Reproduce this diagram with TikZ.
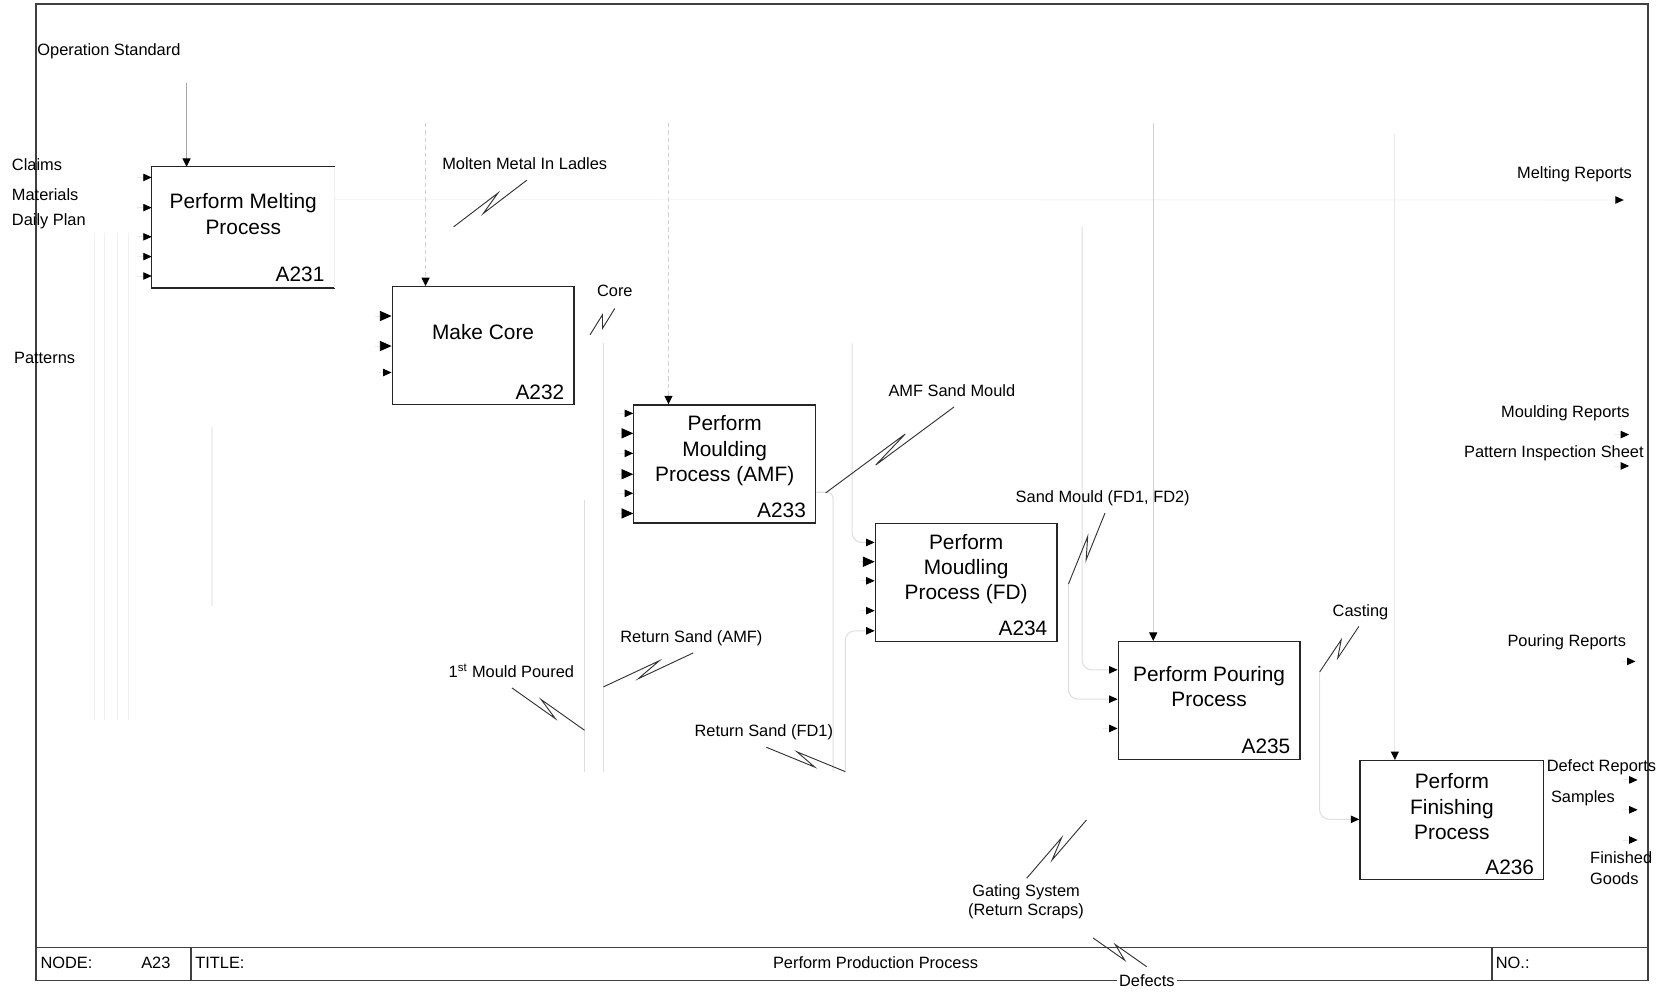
\documentclass[tikz,border=0pt]{standalone}
\usepackage{fontspec}
\setmainfont{Liberation Sans}
\usetikzlibrary{calc,arrows.meta}
\begin{document}
\begin{tikzpicture}[x=0.25mm,y=-0.25mm,
  proc/.style={draw=black!85, line width=0.3mm, minimum width=42.875mm, minimum height=27.875mm, inner sep=0pt},
  ptext/.style={font=\fontsize{14}{17}\selectfont, align=center, inner sep=0pt},
  pnum/.style={font=\fontsize{14}{17}\selectfont, inner sep=0pt, anchor=base east},
  lab/.style={font=\fontsize{11}{13}\selectfont, inner sep=0pt, anchor=base west},
  frameline/.style={draw=black!75, line width=0.35mm},
  squigline/.style={draw=black!80, line width=0.22mm},
  squigU/.style={squigline, to path={-- ($(\tikztostart)!0.64!(\tikztotarget)!1.1mm!90:(\tikztotarget)$) -- ($(\tikztostart)!0.37!(\tikztotarget)!1.1mm!-90:(\tikztotarget)$) -- (\tikztotarget)}},
  squigD/.style={squigline, to path={-- ($(\tikztostart)!0.63!(\tikztotarget)!1.1mm!-90:(\tikztotarget)$) -- ($(\tikztostart)!0.37!(\tikztotarget)!1.1mm!90:(\tikztotarget)$) -- (\tikztotarget)}},
  faint/.style={draw=black!13, line width=0.25mm},
  fainter/.style={draw=black!6, line width=0.25mm},
  ctl/.style={draw=black!18, line width=0.25mm, -{Triangle[length=2mm,width=1.9mm,color=black]}},
  tipS/.style={draw=black!8, line width=0.2mm, -{Triangle[length=2mm,width=1.75mm,color=black]}},
  tipB/.style={draw=black!8, line width=0.2mm, -{Triangle[length=2.75mm,width=2.4mm,color=black]}},
  faintin/.style={faint, rounded corners=2.25mm, -{Triangle[length=2mm,width=1.75mm,color=black]}}
]
\useasboundingbox (0,0) rectangle (1568,935);

% ---- activity boxes ----
\node[proc, draw=none, minimum height=28.25mm] (A231) at (229.5,214.5) {};
\node[proc] (A232) at (455.75,326.2) {};
\node[proc] (A233) at (683.75,437.75) {};
\node[proc] (A234) at (911.5,549.5) {};
\node[proc] (A235) at (1140.75,661) {};
\node[proc, minimum width=43.375mm, minimum height=28.1mm] (A236) at (1369.75,773.8) {};
\draw[line width=0.3mm, black!85] (A231.north east) -- (A231.north west) -- (A231.south west) -- (A231.south east);
\draw[fainter] (A231.north east) -- (A231.south east);

% ---- faint background arrows ----
\foreach \x in {89,99,111,121} \draw[fainter] (\x,220) -- (\x,679);
\draw[fainter] (200,403) -- (200,572);

\coordinate (oMelt) at (1532,188.7);
\coordinate (A231o) at ($(A231.north east)+(0,30.7)$);
\draw[draw=black!4, line width=0.25mm, -{Triangle[length=2mm,width=1.75mm,color=black]}] (A231o) -- (oMelt);

\coordinate (f1) at (1021,214);
\coordinate (A235i1) at ($(A235.north west)+(0,27.3)$);
\draw[faintin] (f1) |- (A235i1);
\coordinate (sSMa) at (1008,551);
\coordinate (sSMb) at (1042.5,484);
\coordinate (A235i2) at ($(A235.north west)+(0,55)$);
\draw[faintin] (sSMa) |- (A235i2);

\coordinate (f3a) at (551.5,472);
\coordinate (f3b) at (551.5,728);
\draw[faint] (f3a) -- (f3b);
\coordinate (f4a) at (569.4,324);
\coordinate (f4b) at (569.4,728);
\draw[faint] (f4a) -- (f4b);

\coordinate (A233o) at ($(A233.north east)+(0,83)$);
\coordinate (f5b) at (786,728);
\draw[faint, rounded corners=1.5mm] (A233o) -| (f5b);

\coordinate (f6) at (797.5,728);
\coordinate (A234i5) at ($(A234.north west)+(0,102)$);
\draw[faintin] (f6) |- (A234i5);
\coordinate (f7) at (804,324);
\coordinate (A234i1) at ($(A234.north west)+(0,18.6)$);
\draw[faintin] (f7) |- (A234i1);

\coordinate (sCaa) at (1245,634);
\coordinate (sCab) at (1282,591);
\coordinate (A236i) at ($(A236.north west)+(0,56)$);
\draw[faintin] (sCaa) |- (A236i);

% ---- control arrows ----
\coordinate (cA231) at (176,78);
\coordinate (cA232) at (401.5,116);
\coordinate (cA233) at (630.7,116);
\coordinate (cA235) at (1088,116);
\coordinate (cA236) at (1316,126);
\draw[ctl, draw=black!35] (cA231) -- (A231.north -| cA231);
\draw[ctl, densely dashed] (cA232) -- (A232.north -| cA232);
\draw[ctl, densely dashed] (cA233) -- (A233.north -| cA233);
\draw[ctl] (cA235) -- (A235.north -| cA235);
\draw[ctl, draw=black!9] (cA236) -- (A236.north -| cA236);

% ---- input arrow heads ----
\foreach \dy in {10,38.5,66,84.7,103}
  \draw[tipS] ($(A231.north west)+(-14,\dy)$) -- ($(A231.north west)+(0,\dy)$);
\foreach \dy in {28.3,56.6}
  \draw[tipB] ($(A232.north west)+(-16,\dy)$) -- ($(A232.north west)+(0,\dy)$);
\foreach \dy in {81.6}
  \draw[tipS] ($(A232.north west)+(-14,\dy)$) -- ($(A232.north west)+(0,\dy)$);
\foreach \dy in {8.6,46.3,84}
  \draw[tipS] ($(A233.north west)+(-14,\dy)$) -- ($(A233.north west)+(0,\dy)$);
\foreach \dy in {27.4,66,103}
  \draw[tipB] ($(A233.north west)+(-16,\dy)$) -- ($(A233.north west)+(0,\dy)$);
\foreach \dy in {54.8,83}
  \draw[tipS] ($(A234.north west)+(-14,\dy)$) -- ($(A234.north west)+(0,\dy)$);
\foreach \dy in {36.8}
  \draw[tipB] ($(A234.north west)+(-16,\dy)$) -- ($(A234.north west)+(0,\dy)$);
\foreach \dy in {82.6}
  \draw[tipS] ($(A235.north west)+(-14,\dy)$) -- ($(A235.north west)+(0,\dy)$);

% ---- output arrow heads at the border ----
\coordinate (oMould) at (1537,410);
\coordinate (oPatt) at (1537,439.6);
\coordinate (oPour) at (1543,624);
\coordinate (oDef) at (1545,735.8);
\coordinate (oSamp) at (1545,764);
\coordinate (oGoods) at (1545,792.5);
\foreach \o in {oMould,oPatt,oPour,oDef,oSamp,oGoods}
  \draw[tipS] ($(\o)+(-14,0)$) -- (\o);

% ---- box texts ----
\node[ptext] (A231t) at ($(A231.center)+(0,-12.5)$) {Perform Melting\\Process};
\node[pnum] (A231n) at ($(A231.south east)+(-9.5,-6)$) {A231};
\node[ptext] (A232t) at ($(A232.center)+(0,-13)$) {Make Core};
\node[pnum] (A232n) at ($(A232.south east)+(-9.5,-6)$) {A232};
\node[ptext] (A233t) at ($(A233.center)+(0,-12.5)$) {Perform\\Moulding\\Process (AMF)};
\node[pnum] (A233n) at ($(A233.south east)+(-9.5,-6)$) {A233};
\node[ptext] (A234t) at ($(A234.center)+(0,-12.5)$) {Perform\\Moudling\\Process (FD)};
\node[pnum] (A234n) at ($(A234.south east)+(-9.5,-6)$) {A234};
\node[ptext] (A235t) at ($(A235.center)+(0,-13)$) {Perform Pouring\\Process};
\node[pnum] (A235n) at ($(A235.south east)+(-9.5,-6)$) {A235};
\node[ptext] (A236t) at ($(A236.center)+(0,-12.8)$) {Perform\\Finishing\\Process};
\node[pnum] (A236n) at ($(A236.south east)+(-9.5,-6)$) {A236};

% ---- frame and title block ----
\draw[frameline] (34,4) rectangle (1555,925);
\draw[frameline] (34,894) -- (1555,894);
\draw[frameline] (180,894) -- (180,925);
\draw[frameline] (1407.6,894) -- (1407.6,925);
\node[lab] (tNode) at (38,914) {NODE:};
\node[lab] (tA23) at (133,914) {A23};
\node[lab] (tTitle) at (184,914) {TITLE:};
\node[lab, anchor=base] (tName) at (826,914) {Perform Production Process};
\node[lab] (tNo) at (1411,914) {NO.:};

% ---- arrow labels ----
\node[lab] (lOp) at (35,52) {Operation Standard};
\node[lab] (lCl) at (11,161) {Claims};
\node[lab] (lMa) at (11,189) {Materials};
\node[lab] (lDp) at (11,213) {Daily Plan};
\node[lab] (lPa) at (13,343) {Patterns};
\node[lab] (lMo) at (417,160) {Molten Metal In Ladles};
\node[lab] (lCo) at (563,280) {Core};
\node[lab] (lAS) at (838,374) {AMF Sand Mould};
\node[lab] (lSM) at (958,474) {Sand Mould (FD1, FD2)};
\node[lab] (lCa) at (1257,582) {Casting};
\node[lab] (lRA) at (585,606) {Return Sand (AMF)};
\node[lab] (l1M) at (423,639) {1\textsuperscript{st} Mould Poured};
\node[lab] (lRF) at (655,695) {Return Sand (FD1)};
\node[font=\fontsize{11}{12.8}\selectfont, align=center, inner sep=0pt] (lGa) at (968,851) {Gating System\\(Return Scraps)};
\node[font=\fontsize{11}{13}\selectfont, fill=white, inner sep=1.5pt] (lDe) at (1082,925) {Defects};
\node[lab] (lMR) at (1431,168) {Melting Reports};
\node[lab] (lMoR) at (1416,394) {Moulding Reports};
\node[lab] (lPI) at (1381,432) {Pattern Inspection Sheet};
\node[lab] (lPR) at (1422,610) {Pouring Reports};
\node[lab] (lDR) at (1459,728) {Defect Reports};
\node[lab] (lSa) at (1463,757) {Samples};
\node[lab] (lFi) at (1500,815) {Finished};
\node[lab] (lGo) at (1500,834) {Goods};

% ---- squiggles tying labels to arrows ----
\coordinate (sMoa) at (428,214);   \coordinate (sMob) at (497,170);
\coordinate (sCoa) at (556.6,316); \coordinate (sCob) at (580,291);
\coordinate (sASa) at (779,465);   \coordinate (sASb) at (900,384);
\coordinate (sRAb) at (654,616);   \coordinate (sRAa) at (569.4,648);
\coordinate (s1Ma) at (483,649);   \coordinate (s1Mb) at (551.5,689);
\coordinate (sRFa) at (723,705);
\coordinate (sGaa) at (968.6,828.6); \coordinate (sGab) at (1025,773.6);
\coordinate (sDea) at (1031.4,885);  \coordinate (sDeb) at (1081.8,912);
\draw[squigU] (sMoa) to (sMob);
\draw[squigU] (sCoa) to (sCob);
\draw[squigU] (sASa) to (sASb);
\draw[squigU] (sSMa) to (sSMb);
\draw[squigU] (sCaa) to (sCab);
\draw[squigU] (sRAa) to (sRAb);
\draw[squigD] (s1Ma) to (s1Mb);
\draw[squigD] (sRFa) to (f6);
\draw[squigU] (sGaa) to (sGab);
\draw[squigD] (sDea) to (sDeb);
\end{tikzpicture}
\end{document}
